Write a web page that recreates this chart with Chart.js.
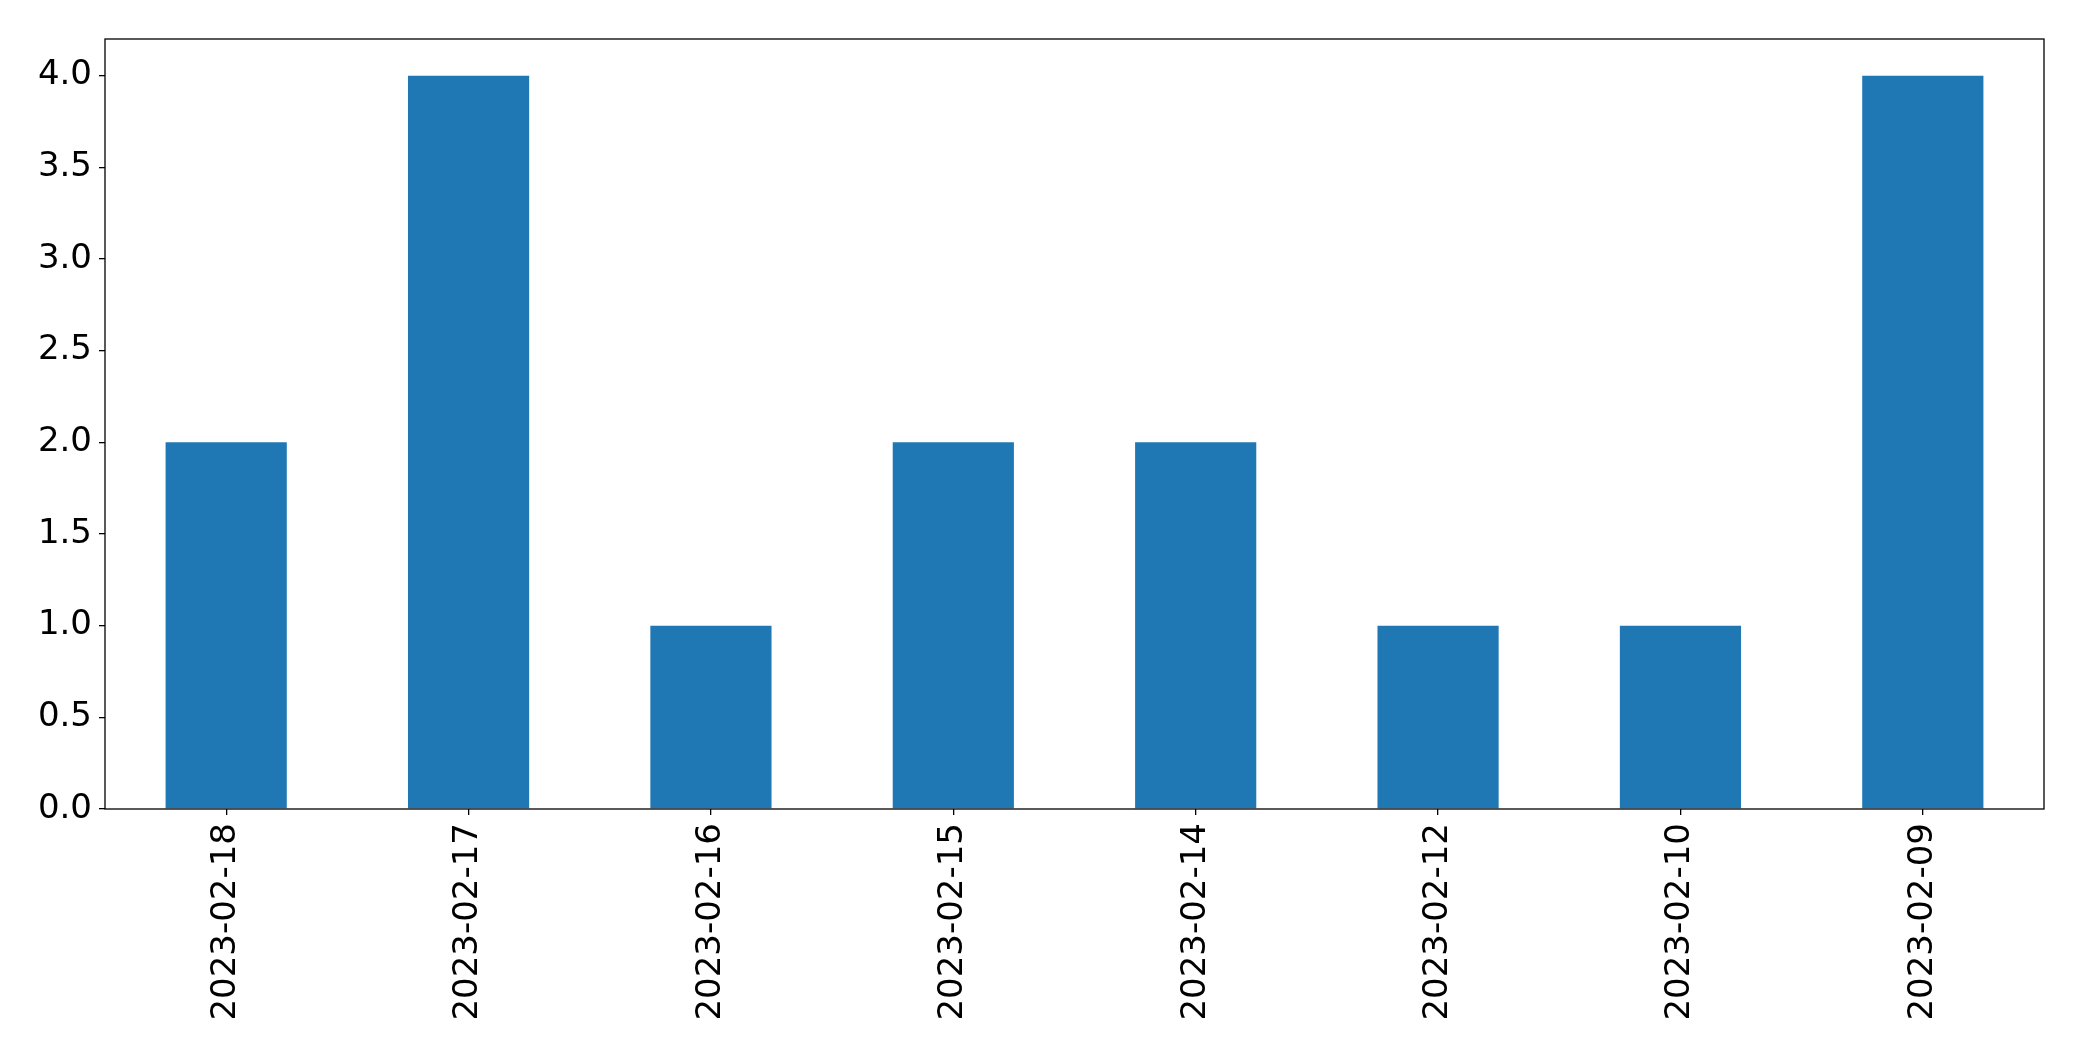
<!DOCTYPE html>
<html>
<head>
<meta charset="utf-8">
<script src="https://cdn.jsdelivr.net/npm/chart.js@4.4.0/dist/chart.umd.min.js"></script>
<style>
  html, body { margin: 0; padding: 0; background: #fff; }
  #wrap { width: 2082px; height: 1061px; }
</style>
</head>
<body>
<div id="wrap"><canvas id="countChart" width="2082" height="1061"></canvas></div>
<script>
    // --- data ---
    const dates = ['2023-02-18', '2023-02-17', '2023-02-16', '2023-02-15',
                   '2023-02-14', '2023-02-12', '2023-02-10', '2023-02-09'];
    const counts = [2, 4, 1, 2, 2, 1, 1, 4];
    const yTicks = [0, 0.5, 1, 1.5, 2, 2.5, 3, 3.5, 4];

    // draws the full box round the plot area, like matplotlib's spines
    const frame = {
        id: 'frame',
        afterDatasetsDraw(chart) {
            const a = chart.chartArea, c = chart.ctx;
            c.save();
            c.strokeStyle = '#000';
            c.lineWidth = 1.3;
            c.strokeRect(a.left, a.top, a.right - a.left, a.bottom - a.top);
            c.restore();
        }
    };

    const font = { family: 'DejaVu Sans', size: 34 };

    new Chart(document.getElementById('countChart').getContext('2d'), {
        type: 'bar',
        data: {
            labels: dates,
            datasets: [{
                data: counts,
                backgroundColor: '#1f77b4',
                borderWidth: 0,
                categoryPercentage: 1.0,
                barPercentage: 0.5
            }]
        },
        options: {
            responsive: false,
            animation: false,
            layout: { padding: { top: 39, right: 38, left: 0, bottom: 0 } },
            plugins: { legend: { display: false }, tooltip: { enabled: false } },
            scales: {
                x: {
                    grid: { offset: false, drawOnChartArea: false, drawTicks: true, tickLength: 6, color: '#000', lineWidth: 1.3 },
                    border: { display: false },
                    ticks: { color: '#000', font: font, minRotation: 90, maxRotation: 90, padding: 8, autoSkip: false },
                    afterFit(s) { s.height = 252; }
                },
                y: {
                    min: 0,
                    max: 4.2,
                    grid: { drawOnChartArea: false, drawTicks: true, tickLength: 6, color: '#000', lineWidth: 1.3 },
                    border: { display: false },
                    ticks: { color: '#000', font: font, padding: 7, callback: v => Number(v).toFixed(1) },
                    afterBuildTicks(s) { s.ticks = yTicks.map(v => ({ value: v })); },
                    afterFit(s) { s.width = 105; }
                }
            }
        },
        plugins: [frame]
    });
</script>
</body>
</html>
